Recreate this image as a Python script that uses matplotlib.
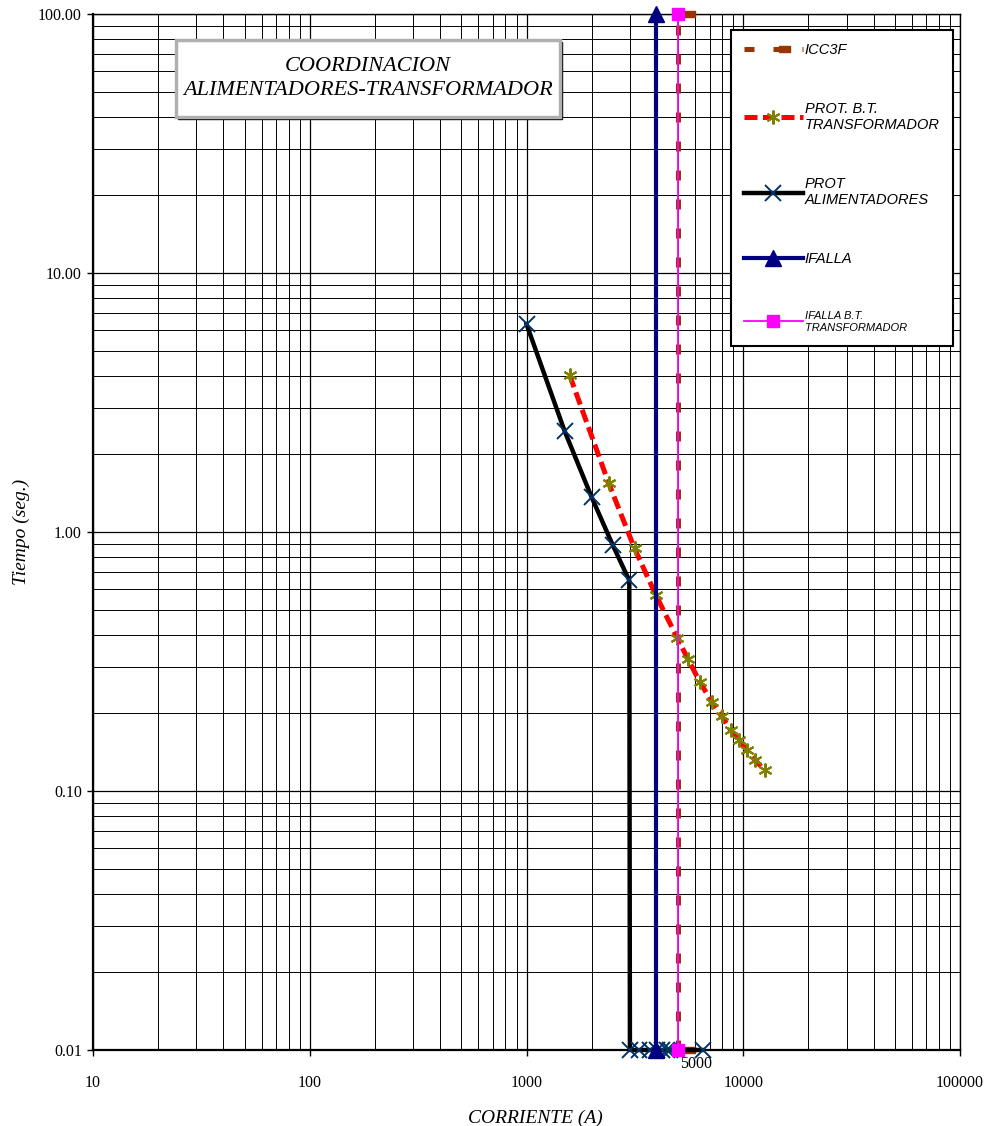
import numpy as np
import matplotlib
matplotlib.use("Agg")
import matplotlib.pyplot as plt
from matplotlib.path import Path
from matplotlib.patches import Rectangle
from matplotlib.ticker import LogLocator, NullFormatter
import matplotlib.transforms as mtransforms

# corrientes (A) y tiempos (seg.) de cada curva
icc3f_i = [5000, 5000]
icc3f_t = [0.01, 100]

prot_bt_i = [1580, 2390, 3150, 3950, 4970, 5550, 6300, 7150, 7950, 8750, 9550, 10400, 11300, 12600]
prot_bt_t = [4.04, 1.55, 0.865, 0.571, 0.389, 0.324, 0.264, 0.221, 0.194, 0.172, 0.157, 0.144, 0.132, 0.120]

prot_alim_i = [1000, 1500, 2000, 2500, 2980, 3000, 3300, 3700, 4000, 4200, 4450, 4600, 6500]
prot_alim_t = [6.35, 2.45, 1.36, 0.89, 0.65, 0.01, 0.01, 0.01, 0.01, 0.01, 0.01, 0.01, 0.01]

ifalla_i = [3950, 3950]
ifalla_t = [0.01, 100]

ifalla_bt_i = [5000, 5000]
ifalla_bt_t = [0.01, 100]

x_ticks = [10, 100, 1000, 10000, 100000]
x_labels = ["10", "100", "1000", "10000", "100000"]
y_ticks = [0.01, 0.1, 1, 10, 100]
y_labels = ["0.01", "0.10", "1.00", "10.00", "100.00"]

serif = "Liberation Serif"
sans = "Liberation Sans"

fig = plt.figure(figsize=(9.84, 11.26), dpi=100)
ax = fig.add_axes([93 / 984, 1 - 1050 / 1126, 867 / 984, 1036 / 1126])
ax.set_xscale("log")
ax.set_yscale("log")

# rejilla log completa
ax.xaxis.set_minor_locator(LogLocator(base=10, subs=np.arange(2, 10)))
ax.yaxis.set_minor_locator(LogLocator(base=10, subs=np.arange(2, 10)))
ax.xaxis.set_minor_formatter(NullFormatter())
ax.yaxis.set_minor_formatter(NullFormatter())
ax.grid(which="major", color="black", linewidth=0.9)
ax.grid(which="minor", color="black", linewidth=0.7)
ax.set_axisbelow(True)

ax.set_xticks(x_ticks, x_labels)
ax.set_yticks(y_ticks, y_labels)
ax.set_xlim(10, 100000)
ax.set_ylim(0.01, 100)
ax.tick_params(which="major", direction="out", length=4, width=1,
               labelsize=11.5, labelfontfamily=serif)
ax.tick_params(axis="x", which="major", pad=14)
ax.tick_params(axis="y", which="major", pad=4)
ax.tick_params(which="minor", length=0)
for sp in ax.spines.values():
    sp.set_linewidth(1.0)
ax.spines["left"].set_linewidth(1.6)
ax.spines["bottom"].set_linewidth(1.6)

# marcador rectangular desplazado a la derecha (en puntos)
rect_marker = Path([(4, -2.5), (12, -2.5), (12, 2.5), (4, 2.5), (4, -2.5)],
                   [Path.MOVETO, Path.LINETO, Path.LINETO, Path.LINETO, Path.CLOSEPOLY])

l1, = ax.plot(icc3f_i, icc3f_t, color="#993300", linewidth=3.6, dashes=(2.0, 3.8),
              marker=rect_marker, markersize=24, markerfacecolor="#993300",
              markeredgecolor="#993300", clip_on=False, zorder=3, label="ICC3F")
l2, = ax.plot(prot_bt_i, prot_bt_t, color="#FF0000", linewidth=3.6, dashes=(2.6, 1.1),
              marker=(6, 2, 0), markersize=10, markeredgecolor="#808000",
              markeredgewidth=1.5, clip_on=False, zorder=4,
              label="PROT. B.T.\nTRANSFORMADOR")
l3, = ax.plot(prot_alim_i, prot_alim_t, color="black", linewidth=3.2,
              marker="x", markersize=12, markeredgecolor="#003366",
              markeredgewidth=1.4, clip_on=False, zorder=5,
              label="PROT\nALIMENTADORES")
l4, = ax.plot(ifalla_i, ifalla_t, color="#000080", linewidth=3,
              marker="^", markersize=11, markerfacecolor="#000080",
              markeredgecolor="#000080", clip_on=False, zorder=6, label="IFALLA")
l5, = ax.plot(ifalla_bt_i, ifalla_bt_t, color="#FF00FF", linewidth=1.3,
              marker="s", markersize=8, markerfacecolor="#FF00FF",
              markeredgecolor="#FF00FF", clip_on=False, zorder=7,
              label="IFALLA B.T.\nTRANSFORMADOR")

ax.annotate(f"{icc3f_i[0]}", xy=(icc3f_i[0], icc3f_t[0]), xytext=(13, -10),
            textcoords="offset points", ha="center", va="center",
            fontsize=11.5, fontfamily=serif, zorder=8, annotation_clip=False)

ax.set_xlabel("CORRIENTE (A)", fontsize=14, fontstyle="italic", fontfamily=serif)
ax.xaxis.set_label_coords(0.51, -0.058)
ax.set_ylabel("Tiempo (seg.)", fontsize=14, fontstyle="italic", fontfamily=serif)
ax.yaxis.set_label_coords(-0.073, 0.5)

# cuadro del título con sombra
x0, y0, w, h = 0.0957, 0.9006, 0.443, 0.0744
shadow = mtransforms.offset_copy(ax.transAxes, fig=fig, x=2, y=-2, units="dots")
ax.add_patch(Rectangle((x0, y0), w, h, transform=shadow, facecolor="black",
                       edgecolor="black", zorder=9))
ax.add_patch(Rectangle((x0, y0), w, h, transform=ax.transAxes, facecolor="white",
                       edgecolor="#b0b0b0", linewidth=2.5, zorder=10))
ax.text(x0 + w / 2, y0 + h / 2, "COORDINACION\nALIMENTADORES-TRANSFORMADOR",
        transform=ax.transAxes, ha="center", va="center", fontsize=16,
        fontstyle="italic", fontfamily=serif, linespacing=1.35, zorder=11)

leg = ax.legend(handles=[l1, l2, l3, l4, l5], loc="upper left",
                bbox_to_anchor=(0.736, 0.9846), frameon=True, fancybox=False,
                edgecolor="black", framealpha=1, borderpad=0.9,
                labelspacing=3.08, handlelength=4.0, handletextpad=0.15,
                borderaxespad=0, prop={"family": sans, "style": "italic", "size": 10.5})
leg.get_frame().set_linewidth(1.5)
leg.set_zorder(12)
leg.get_texts()[4].set_fontsize(8)

fig.savefig("out.png", dpi=100)
